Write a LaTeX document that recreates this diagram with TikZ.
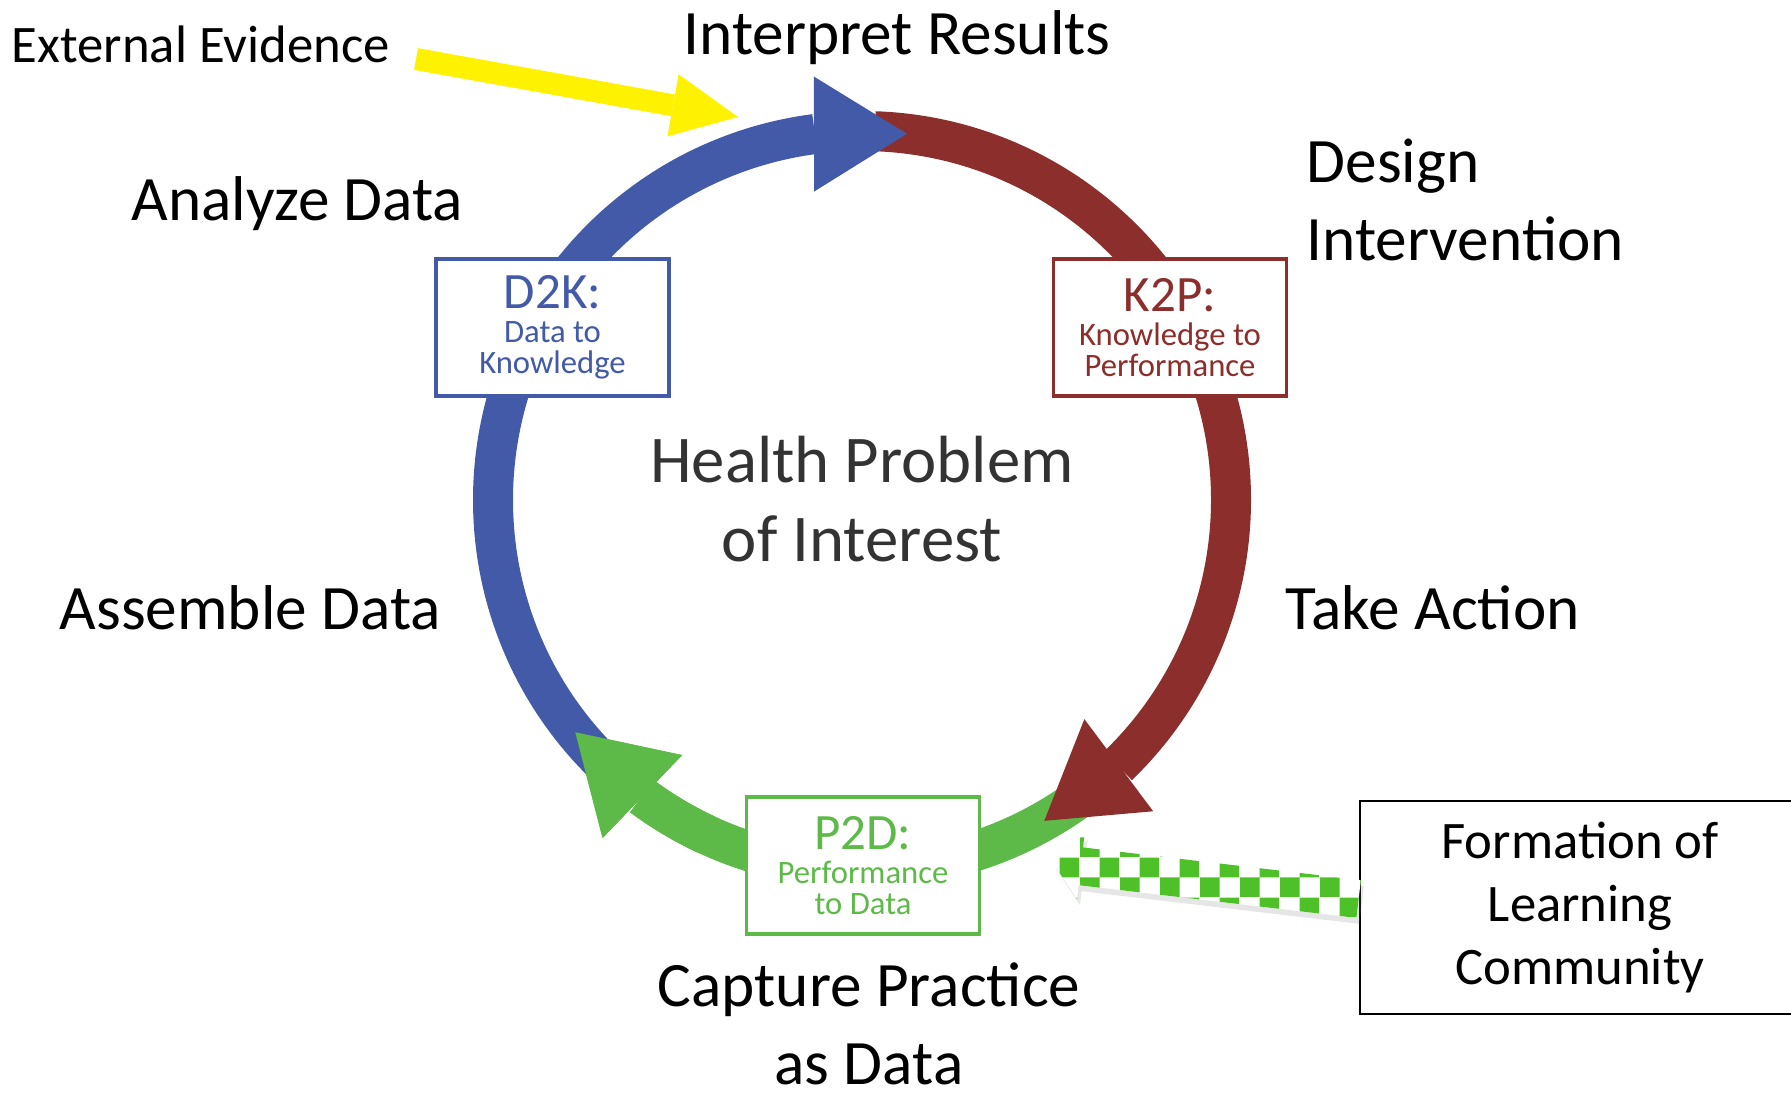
\documentclass[tikz,border=0pt]{standalone}
\usepackage{fontspec}
\setmainfont{Carlito}
\usetikzlibrary{arrows.meta,bending,calc,patterns,shadows}

\definecolor{dkblue}{RGB}{66,90,168}
\definecolor{kpred}{RGB}{139,46,44}
\definecolor{pdgreen}{RGB}{94,186,72}
\definecolor{chkgreen}{RGB}{78,192,40}
\definecolor{hpgray}{RGB}{51,51,51}

\newcommand{\phasetitle}{\fontsize{14.5}{16}\selectfont}

\begin{document}
\begin{tikzpicture}[band/.style = {line width=4mm, -{Triangle[width=11.5mm,length=9.3mm,line width=0pt]}},
  phase/.style = {draw=#1, text=#1, line width=1pt, fill=white, minimum width=2.33cm, minimum height=1.37cm, inner sep=0pt, align=center, font=\fontsize{9.3}{8.8}\selectfont},
  stage/.style = {inner sep=0pt, font=\fontsize{18}{22}\selectfont}]
\useasboundingbox (0,0) rectangle (17.91,10.96);
\coordinate (C) at (8.62,5.96);
% the cycle
\draw[band, pdgreen] ($(C)+(-50:3.69)$) arc[start angle=-50, end angle=-141, radius=3.69];
\draw[band, kpred] ($(C)+(88:3.69)$) arc[start angle=88, end angle=-60.4, radius=3.69];
\draw[band, dkblue] ($(C)+(226:3.69)$) arc[start angle=226, end angle=83, radius=3.69];
\draw[band, pdgreen] ($(C)+(-115:3.69)$) arc[start angle=-115, end angle=-141, radius=3.69];
\node[phase=dkblue] (d2k) at (5.525,7.685) {{\phasetitle D2K:}\\[1pt]Data to\\Knowledge};
\node[phase=kpred] (k2p) at (11.70,7.685) {{\phasetitle K2P:}\\[1pt]Knowledge to\\Performance};
\node[phase=pdgreen] (p2d) at (8.63,2.305) {{\phasetitle P2D:}\\[1pt]Performance\\to Data};
\node[text=hpgray, align=center, font=\fontsize{19}{22.5}\selectfont] (hpi) at (8.62,5.97) {Health Problem\\of Interest};
% labels round the cycle
\node[stage, anchor=base west, font=\fontsize{15}{18}\selectfont] (ext) at (0.11,10.33) {External Evidence};
\node[stage, anchor=base] (interp) at (8.97,10.41) {Interpret Results};
\node[stage, anchor=base west] (analyze) at (1.31,8.76) {Analyze Data};
\node[stage, anchor=base west, align=left] (design) at (13.06,8.36) {Design\\Intervention};
\node[stage, anchor=base west] (action) at (12.85,4.67) {Take Action};
\node[stage, anchor=base west] (assemble) at (0.59,4.67) {Assemble Data};
\node[stage, anchor=base, align=center] (capture) at (8.69,0.12) {Capture Practice\\as Data};
\node[draw, line width=0.8pt, minimum width=4.4cm, minimum height=2.13cm, align=center, font=\fontsize{15}{18}\selectfont] (learn) at (15.80,1.885) {Formation of\\Learning\\Community};
% outside inputs
\coordinate (ytail) at (4.16,10.37);
\coordinate (ytip) at (7.38,9.79);
\draw[line width=2.2mm, yellow, -{Triangle[width=6.3mm,length=6.6mm,line width=0pt]}] (ytail) -- (ytip);
\coordinate (ltail) at ([yshift=0.85mm]learn.west);
\coordinate (ltip) at (10.53,2.33);
\coordinate (lhead) at ($(ltip)!0.28cm!(ltail)$);
\fill[white, drop shadow={opacity=0.2, shadow xshift=0.3mm, shadow yshift=-0.6mm}, postaction={pattern=checkerboard, pattern color=chkgreen}]
  ($(ltail)!0.19cm!-90:(ltip)$) -- ($(lhead)!0.19cm!-90:(ltip)$) -- ($(lhead)!0.33cm!-90:(ltip)$) -- (ltip)
  -- ($(lhead)!0.33cm!90:(ltip)$) -- ($(lhead)!0.19cm!90:(ltip)$) -- ($(ltail)!0.19cm!90:(ltip)$) -- cycle;
\end{tikzpicture}
\end{document}
